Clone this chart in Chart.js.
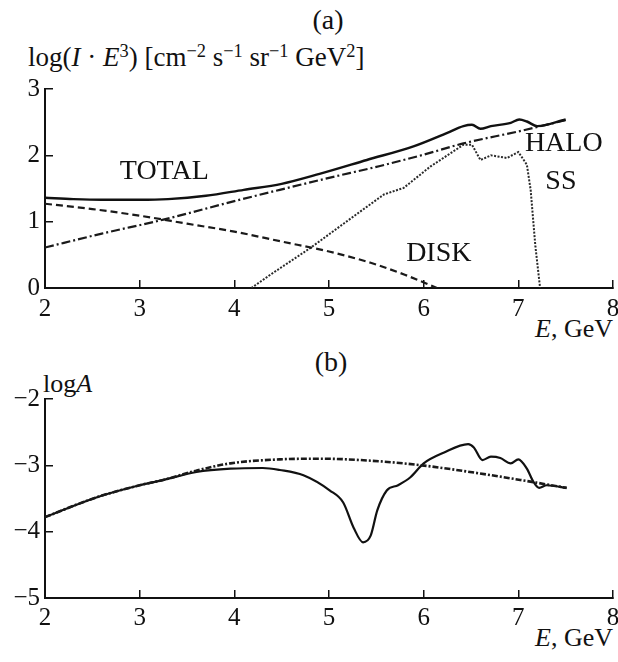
<!DOCTYPE html>
<html>
<head>
<meta charset="utf-8">
<script src="https://cdn.jsdelivr.net/npm/chart.js@4.4.1/dist/chart.umd.min.js"></script>
<style>
  body { margin: 0; background: #fff; }
  #wrap { position: relative; width: 618px; height: 662px; font-family: 'Liberation Serif', 'Times New Roman', serif; color: #111; }
  canvas { position: absolute; left: 0; }
  .txt { position: absolute; white-space: nowrap; line-height: 1; }
  .txt sup { font-size: 0.68em; vertical-align: 0.5em; line-height: 0; }
</style>
</head>
<body>
<div id="wrap">
  <div class="txt" style="left:328px; top:6px; font-size:28px; transform:translateX(-50%)">(a)</div>
  <div class="txt" style="left:28px; top:44px; font-size:27px">log(<i>I</i> · <i>E</i><sup>3</sup>) [cm<sup>−2</sup> s<sup>−1</sup> sr<sup>−1</sup> GeV<sup>2</sup>]</div>
  <div class="txt" style="right:5px; top:316px; font-size:26px"><i>E</i>, GeV</div>
  <div class="txt" style="left:331px; top:348px; font-size:28px; transform:translateX(-50%)">(b)</div>
  <div class="txt" style="left:43px; top:371px; font-size:26px">log<i>A</i></div>
  <div class="txt" style="right:5px; top:625px; font-size:26px"><i>E</i>, GeV</div>
  <canvas id="chartA" width="618" height="345" style="top:0"></canvas>
  <canvas id="chartB" width="618" height="317" style="top:345px"></canvas>
</div>
<script>
// ============ DATA ============
// panel (a): E in GeV, log(I*E^3)
const totalE = [2.0, 2.3, 2.6, 3.0, 3.3, 3.7, 4.1, 4.5, 4.9, 5.4, 5.9, 6.25, 6.42, 6.51, 6.60, 6.71, 6.92, 7.01, 7.09, 7.20, 7.50];
const totalLog = [1.36, 1.34, 1.33, 1.33, 1.34, 1.39, 1.48, 1.57, 1.72, 1.93, 2.14, 2.34, 2.44, 2.46, 2.40, 2.44, 2.49, 2.54, 2.51, 2.44, 2.54];

const haloE = [2.0, 2.6, 3.25, 4.0, 4.48, 5.0, 5.54, 6.0, 6.42, 7.0, 7.5];
const haloLog = [0.61, 0.82, 1.03, 1.31, 1.48, 1.66, 1.84, 2.01, 2.18, 2.36, 2.53];

const diskE = [2.0, 2.5, 3.0, 3.5, 4.0, 4.5, 5.0, 5.44, 5.8, 6.14];
const diskLog = [1.27, 1.19, 1.09, 0.97, 0.85, 0.70, 0.55, 0.38, 0.20, 0.0];

const ssE = [4.18, 4.38, 4.80, 5.26, 5.58, 5.79, 6.07, 6.42, 6.51, 6.60, 6.71, 6.88, 7.00, 7.09, 7.13, 7.18, 7.23];
const ssLog = [0.0, 0.20, 0.60, 1.08, 1.41, 1.51, 1.83, 2.16, 2.16, 1.93, 2.00, 1.96, 2.05, 1.86, 1.48, 0.63, 0.0];

// panel (b): log A
const smoothE = [2.0, 2.55, 3.0, 3.25, 3.6, 3.96, 4.48, 4.91, 5.44, 5.98, 6.49, 7.02, 7.51];
const smoothLogA = [-3.78, -3.48, -3.30, -3.22, -3.08, -2.97, -2.91, -2.90, -2.93, -3.00, -3.10, -3.22, -3.34];

const fullE = [2.0, 2.55, 3.0, 3.25, 3.6, 3.96, 4.3, 4.48, 4.73, 5.01, 5.15, 5.26, 5.36, 5.44, 5.51, 5.61, 5.73, 5.86, 6.0, 6.21, 6.47, 6.53, 6.62, 6.71, 6.81, 6.92, 7.0, 7.09, 7.16, 7.22, 7.30, 7.51];
const fullLogA = [-3.78, -3.48, -3.30, -3.22, -3.10, -3.05, -3.04, -3.07, -3.15, -3.38, -3.56, -3.94, -4.16, -4.06, -3.68, -3.38, -3.30, -3.18, -2.97, -2.81, -2.68, -2.73, -2.92, -2.87, -2.89, -2.97, -2.91, -3.05, -3.25, -3.34, -3.30, -3.34];

const xTicks = [2, 3, 4, 5, 6, 7, 8];

// ============ HELPERS ============
const FONT = "'Liberation Serif', 'Times New Roman', serif";

function points(xs, ys) {
    return xs.map((x, i) => ({ x, y: ys[i] }));
}

function line(xs, ys, dash, width, color, smooth) {
    return {
        data: points(xs, ys),
        borderColor: color || '#111',
        borderWidth: width,
        borderDash: dash,
        pointRadius: 0,
        fill: false,
        cubicInterpolationMode: smooth ? 'monotone' : 'default',
        tension: 0
    };
}

// curve names written at data coordinates
const curveLabels = {
    id: 'curveLabels',
    afterDatasetsDraw(chart, args, opts) {
        const items = opts.items || [];
        if (!items.length) return;
        const { ctx, scales: { x, y } } = chart;
        ctx.save();
        ctx.font = '28px ' + FONT;
        ctx.fillStyle = '#111';
        ctx.textAlign = 'center';
        ctx.textBaseline = 'middle';
        items.forEach(it => ctx.fillText(it.text, x.getPixelForValue(it.e), y.getPixelForValue(it.v)));
        ctx.restore();
    }
};

function makeChart(id, datasets, yMin, yMax, top, xHeight, xPad, items) {
    const axisCommon = {
        type: 'linear',
        border: { display: true, color: '#111', width: 2 },
        grid: { drawOnChartArea: false, drawTicks: true, tickLength: -8, color: '#111', lineWidth: 1.5 }
    };
    return new Chart(document.getElementById(id), {
        type: 'line',
        data: { datasets },
        plugins: [curveLabels],
        options: {
            responsive: false,
            animation: false,
            layout: { padding: { top, right: 5, left: 0, bottom: 0 } },
            plugins: {
                legend: { display: false },
                tooltip: { enabled: false },
                curveLabels: { items }
            },
            scales: {
                x: {
                    ...axisCommon,
                    min: 2, max: 8,
                    afterBuildTicks: s => { s.ticks = xTicks.map(v => ({ value: v })); },
                    afterFit: s => {
                        s.height = xHeight;
                        s.paddingLeft = 0;
                        s.paddingRight = 5;
                    },
                    ticks: { color: '#111', padding: xPad, maxRotation: 0, font: { family: FONT, size: 25 } }
                },
                y: {
                    ...axisCommon,
                    min: yMin, max: yMax,
                    afterFit: s => { s.width = 45; },
                    ticks: {
                        stepSize: 1, color: '#111', padding: 13,
                        font: { family: FONT, size: 25 },
                        callback: v => String(v).replace('-', '\u2212')
                    }
                }
            }
        }
    });
}

// ============ CHARTS ============
makeChart('chartA', [
    line(totalE, totalLog, [], 2.4, '#111', true),
    line(haloE, haloLog, [9, 3, 2, 3], 2.2, '#1a1a1a', true),
    line(diskE, diskLog, [7, 4], 2.2, '#1a1a1a', true),
    line(ssE, ssLog, [2, 1.5], 2, '#2a2a2a', false)
], 0, 3, 89, 57, 14, [
    { text: 'TOTAL', e: 3.26, v: 1.75 },
    { text: 'HALO', e: 7.48, v: 2.18 },
    { text: 'SS', e: 7.45, v: 1.60 },
    { text: 'DISK', e: 6.16, v: 0.52 }
]);

makeChart('chartB', [
    line(smoothE, smoothLogA, [6, 2, 2, 2], 2.6, '#1a1a1a', true),
    line(fullE, fullLogA, [], 2.2, '#111', true)
], -5, -2, 54, 64, 13, []);
</script>
</body>
</html>
